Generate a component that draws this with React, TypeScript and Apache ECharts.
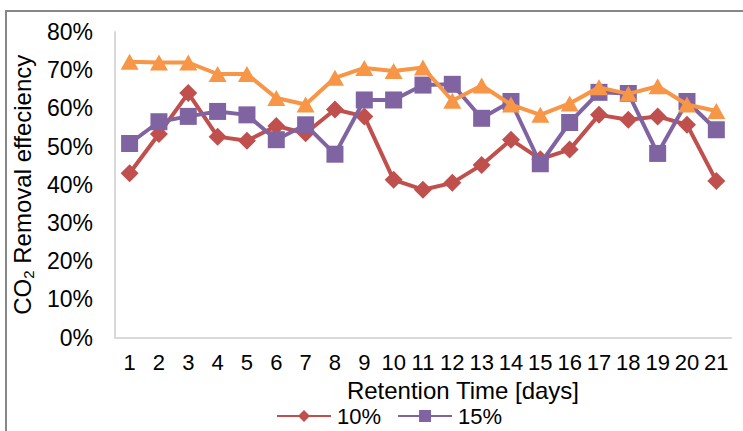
import React, { useEffect, useRef } from "react";
import * as echarts from "echarts";

const days = ["1","2","3","4","5","6","7","8","9","10","11","12","13","14","15","16","17","18","19","20","21"];
const co2_10 = [43, 53.3, 64, 52.6, 51.5, 55.4, 53.5, 59.7, 57.9, 41.3, 38.7, 40.5, 45.2, 51.8, 46.7, 49.2, 58.3, 57, 57.9, 55.7, 41];
const co2_15 = [50.8, 56.5, 57.9, 59.2, 58.3, 51.8, 55.7, 48, 62.2, 62.2, 66.1, 66.3, 57.4, 61.8, 45.5, 56.3, 64.2, 63.9, 48.2, 61.8, 54.4];
const co2_20 = [72.2, 72, 72, 69, 69, 62.7, 61, 68, 70.6, 69.8, 70.7, 62, 66, 61, 58.3, 61.3, 65.5, 63.8, 65.8, 61, 59.3];
const legendNames = ["10%", "15%"];

const FONT = "'Liberation Sans', Arial, sans-serif";

export default function App() {
  const ref = useRef<HTMLDivElement>(null);
  useEffect(() => {
    document.body.style.margin = "0";
    const chart = echarts.init(ref.current!, undefined, { renderer: "svg" });
    chart.setOption({
      animation: false,
      backgroundColor: "#ffffff",
      textStyle: { fontFamily: FONT },
      graphic: [
        {
          type: "rect",
          shape: { x: 6, y: 11, width: 800, height: 500 },
          style: { fill: "none", stroke: "#878787", lineWidth: 2 },
          z: 0,
        },
      ],
      grid: { left: 111, top: 32, width: 620, height: 305.5 },
      legend: {
        data: legendNames,
        left: 271,
        top: 400,
        itemWidth: 54,
        itemHeight: 15,
        itemGap: 16,
        textStyle: { fontSize: 22, color: "#000", fontFamily: FONT, padding: [0, 0, 0, 1] },
      },
      xAxis: {
        type: "category",
        data: days,
        boundaryGap: true,
        axisLine: { show: true, lineStyle: { color: "#d9d9d9", width: 2 } },
        axisTick: { show: false },
        axisLabel: { interval: 0, fontSize: 22, color: "#000", margin: 14, fontFamily: FONT },
        name: "Retention Time [days]",
        nameLocation: "middle",
        nameGap: 32,
        nameTextStyle: { fontSize: 24, color: "#000", fontFamily: FONT, padding: [0, 0, 0, 80] },
      },
      yAxis: {
        type: "value",
        min: 0,
        max: 80,
        interval: 10,
        axisLine: { show: true, lineStyle: { color: "#d9d9d9", width: 2 } },
        axisTick: { show: false },
        splitLine: { show: false },
        axisLabel: { formatter: "{value}%", fontSize: 23, color: "#000", margin: 22, fontFamily: FONT },
        name: "CO{sub|2} Removal effeciency",
        nameLocation: "middle",
        nameGap: 72,
        nameTextStyle: {
          fontSize: 24,
          color: "#000",
          fontFamily: FONT,
          lineHeight: 28,
          rich: {
            sub: { fontSize: 15, fontFamily: FONT, color: "#000", verticalAlign: "bottom", lineHeight: 15, padding: [10, 0, 0, 0] },
          },
        },
      },
      series: [
        {
          name: "10%",
          type: "line",
          data: co2_10,
          color: "#C0504D",
          lineStyle: { width: 4, color: "#C0504D" },
          symbol: "diamond",
          symbolSize: [18, 18],
          itemStyle: { color: "#C0504D" },
          z: 2,
        },
        {
          name: "15%",
          type: "line",
          data: co2_15,
          color: "#8064A2",
          lineStyle: { width: 4, color: "#8064A2" },
          symbol: "rect",
          symbolSize: 17,
          itemStyle: { color: "#8064A2" },
          z: 3,
        },
        {
          name: "20%",
          type: "line",
          data: co2_20,
          color: "#F79646",
          lineStyle: { width: 4, color: "#F79646" },
          symbol: "triangle",
          symbolSize: [18, 16],
          itemStyle: { color: "#F79646" },
          z: 4,
        },
      ],
    });
    return () => chart.dispose();
  }, []);
  return <div ref={ref} style={{ width: 743, height: 431, position: "absolute", left: 0, top: 0 }} />;
}
